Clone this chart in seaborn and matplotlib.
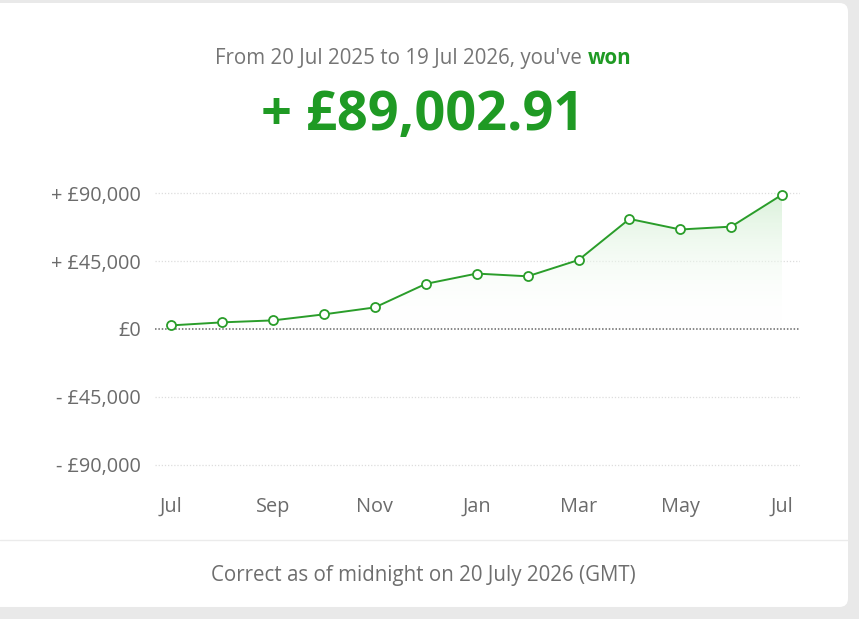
import numpy as np
import pandas as pd
import matplotlib
matplotlib.use("Agg")
import matplotlib.pyplot as plt
from matplotlib.patches import FancyBboxPatch
from matplotlib.colors import LinearSegmentedColormap
from matplotlib.ticker import FixedLocator
import seaborn as sns

# --- data ---
months = ["Jul", "Aug", "Sep", "Oct", "Nov", "Dec", "Jan",
          "Feb", "Mar", "Apr", "May", "Jun", "Jul"]
profit = [2400, 4400, 5700, 9700, 14300, 29900, 36700,
          34900, 45700, 72900, 65900, 67800, 89002.91]
y_ticks = [90000, 45000, 0, -45000, -90000]
y_tick_labels = ["+ £90,000", "+ £45,000", "£0", "- £45,000", "- £90,000"]
x_tick_labels = ["Jul", "Sep", "Nov", "Jan", "Mar", "May", "Jul"]

GREEN = "#2a9d2a"
TEXT_GREEN = "#1f9a24"
GREY = "#6b6b6b"

sns.set_style("white")
plt.rcParams["font.family"] = ["Open Sans", "DejaVu Sans"]

df = pd.DataFrame({"idx": np.arange(len(months)), "month": months, "profit": profit})

fig = plt.figure(figsize=(8.59, 6.19), dpi=100)
fig.patch.set_facecolor("#e9e9e9")

# white card
card = FancyBboxPatch((-0.02, 0.0194), 0.02 + 848 / 859, (616 - 12) / 619,
                      boxstyle="round,pad=0,rounding_size=0.01",
                      mutation_aspect=859 / 619,
                      transform=fig.transFigure, facecolor="white",
                      edgecolor="none", zorder=-1)
fig.patches.append(card)

ax = fig.add_axes([155 / 859, (619 - 480) / 619, 645 / 859, 302 / 619])
ax.set_zorder(2)
ax.set_facecolor("none")

# gradient area under the line
fill = ax.fill_between(df["idx"], df["profit"], 0, color="none", lw=0)
cmap = LinearSegmentedColormap.from_list("g", [(1, 1, 1, 0), (0.86, 0.95, 0.86, 1)])
grad = np.linspace(0, 1, 256).reshape(-1, 1)
im = ax.imshow(grad, cmap=cmap, aspect="auto", origin="lower",
               extent=[0, len(months) - 1, 0, max(profit)], zorder=1)
path = fill.get_paths()[0]
im.set_clip_path(path, transform=ax.transData)

# grid / zero line
for v in y_ticks:
    if v == 0:
        ax.axhline(0, color="#666666", lw=1.1, ls=(0, (1, 1.2)), zorder=2)
    else:
        ax.axhline(v, color="#dddddd", lw=0.9, ls=(0, (1, 1.5)), zorder=0.5)

sns.lineplot(data=df, x="idx", y="profit", ax=ax, color=GREEN, lw=1.4,
             marker="o", markersize=6.5, markerfacecolor="white",
             markeredgecolor=GREEN, markeredgewidth=1.3, zorder=3)

ax.set_xlim(-0.32, len(months) - 1 + 0.35)
ax.set_ylim(-100000, 100000)
ax.set_xticks(np.arange(0, len(months), 2))
ax.set_xticklabels(x_tick_labels)
ax.yaxis.set_major_locator(FixedLocator(y_ticks))
ax.set_yticklabels(y_tick_labels)
ax.tick_params(axis="both", length=0, labelsize=14.3, colors=GREY)
ax.tick_params(axis="x", pad=12)
ax.tick_params(axis="y", pad=10)
ax.set_xlabel("")
ax.set_ylabel("")
sns.despine(ax=ax, left=True, bottom=True)

# header texts
t1 = fig.text(0, 0.906, "From 20 Jul 2025 to 19 Jul 2026, you've ",
              fontsize=14.8, color="#757575", va="center")
t2 = fig.text(0, 0.906, "won", fontsize=14.8, color=TEXT_GREEN,
              fontweight="bold", va="center")
fig.canvas.draw()
r = fig.canvas.get_renderer()
w1 = t1.get_window_extent(r).width
w2 = t2.get_window_extent(r).width
start = 423 - (w1 + w2) / 2
t1.set_x(start / 859)
t2.set_x((start + w1) / 859)

fig.text(423 / 859, 0.812, "+ £89,002.91", fontsize=39, color=TEXT_GREEN,
         fontweight="bold", ha="center", va="center")

# separator + footer
fig.add_artist(plt.Line2D([0, 848 / 859], [1 - 540 / 619] * 2,
                          transform=fig.transFigure, color="#ebebeb", lw=1))
fig.text(423 / 859, 1 - 576 / 619, "Correct as of midnight on 20 July 2026 (GMT)",
         fontsize=14.8, color="#6e6e6e", ha="center", va="center")

fig.savefig("out.png", dpi=100, facecolor=fig.get_facecolor())
